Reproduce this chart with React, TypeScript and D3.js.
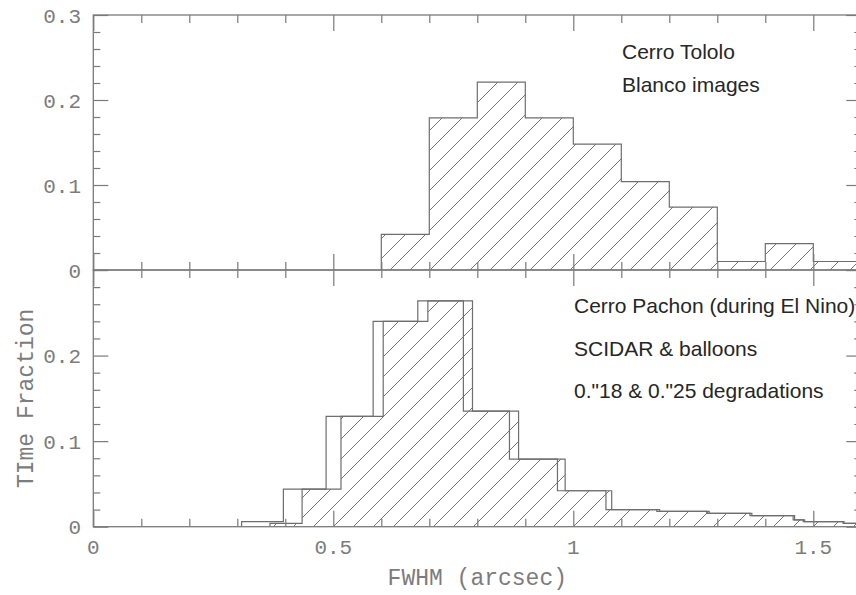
import React, { useEffect, useRef } from "react";
import * as d3 from "d3";

// DATA
const tololoEdges = [0.6, 0.7, 0.8, 0.9, 1.0, 1.1, 1.2, 1.3, 1.4, 1.5, 1.6];
const tololoFrac = [0.042, 0.179, 0.221, 0.179, 0.148, 0.104, 0.074, 0.01, 0.031, 0.01];

// Cerro Pachon: plain outline histogram and hatched (degraded) histogram
const pachonEdges = [0.309, 0.396, 0.485, 0.583, 0.676, 0.771, 0.867, 0.967, 1.068, 1.174, 1.278, 1.368, 1.458, 1.479, 1.562, 1.6];
const pachonFrac = [0.006, 0.044, 0.129, 0.24, 0.264, 0.135, 0.079, 0.042, 0.02, 0.018, 0.0155, 0.013, 0.008, 0.006, 0.004];
const degradedEdges = [0.368, 0.435, 0.516, 0.604, 0.697, 0.79, 0.886, 0.983, 1.08, 1.18, 1.283, 1.372, 1.461, 1.482, 1.564, 1.6];
const degradedFrac = [0.004, 0.044, 0.129, 0.24, 0.264, 0.135, 0.079, 0.042, 0.02, 0.018, 0.0155, 0.013, 0.008, 0.006, 0.004];

const xMajor = [0, 0.5, 1, 1.5];
const xLabels = ["0", "0.5", "1", "1.5"];
const topYMajor = [0, 0.1, 0.2, 0.3];
const topYLabels = ["0", "0.1", "0.2", "0.3"];
const botYMajor = [0, 0.1, 0.2];
const botYLabels = ["0", "0.1", "0.2"];

const topNotes = ["Cerro Tololo", "Blanco images"];
const botNotes = ["Cerro Pachon (during El Nino)", "SCIDAR & balloons", "0.\"18 & 0.\"25 degradations"];

export default function App() {
  const ref = useRef(null);

  useEffect(() => {
    const svg = d3.select(ref.current);
    svg.selectAll("*").remove();

    const left = 93.3;
    const right = 861.3;
    const top = 15;
    const mid = 270;
    const bottom = 526.7;
    const frameColor = "#7a7a7a";
    const textColor = "#7c7c7c";
    const monoFont = "'Liberation Mono', 'DejaVu Sans Mono', monospace";

    const x = d3.scaleLinear().domain([0, 1.6]).range([left, right]);
    const yTop = d3.scaleLinear().domain([0, 0.3]).range([mid, top]);
    const yBot = d3.scaleLinear().domain([0, 0.3]).range([bottom, mid]);

    // hatch pattern
    const defs = svg.append("defs");
    const pat = defs
      .append("pattern")
      .attr("id", "hatch")
      .attr("patternUnits", "userSpaceOnUse")
      .attr("width", 20)
      .attr("height", 20);
    pat
      .append("path")
      .attr("d", "M0,20 L20,0 M-5,5 L5,-5 M15,25 L25,15")
      .attr("stroke", "#767676")
      .attr("stroke-width", 1)
      .attr("fill", "none");

    defs
      .append("clipPath")
      .attr("id", "frameClip")
      .append("rect")
      .attr("x", left)
      .attr("y", top)
      .attr("width", right - left)
      .attr("height", bottom - top);

    const toPts = (edges, vals) =>
      edges.map((e, i) => ({ x: e, v: vals[Math.min(i, vals.length - 1)] }));

    const drawHist = (edges, vals, y, hatched) => {
      const pts = toPts(edges, vals);
      const g = svg.append("g").attr("clip-path", "url(#frameClip)");
      if (hatched) {
        const area = d3
          .area()
          .x((d) => x(d.x))
          .y0(y(0))
          .y1((d) => y(d.v))
          .curve(d3.curveStepAfter);
        g.append("path").datum(pts).attr("d", area).attr("fill", "url(#hatch)");
      }
      const outline = [{ x: edges[0], v: 0 }, ...pts, { x: edges[edges.length - 1], v: 0 }];
      const line = d3
        .line()
        .x((d) => x(d.x))
        .y((d) => y(d.v))
        .curve(d3.curveStepAfter);
      g.append("path")
        .datum(outline)
        .attr("d", line)
        .attr("fill", "none")
        .attr("stroke", "#6e6e6e")
        .attr("stroke-width", 1.2);
    };

    // HISTOGRAMS
    drawHist(tololoEdges, tololoFrac, yTop, true);
    drawHist(degradedEdges, degradedFrac, yBot, true);
    drawHist(pachonEdges, pachonFrac, yBot, false);

    // FRAMES
    [[top, mid], [mid, bottom]].forEach(([a, b]) => {
      svg
        .append("rect")
        .attr("x", left)
        .attr("y", a)
        .attr("width", right - left)
        .attr("height", b - a)
        .attr("fill", "none")
        .attr("stroke", frameColor)
        .attr("stroke-width", 1.3);
    });

    // TICKS
    const xMinor = d3.range(0, 17).map((i) => i / 10).filter((v) => !xMajor.includes(v));
    const yMinor = d3.range(0, 16).map((i) => i / 50).filter((v) => Math.round(v * 50) % 5 !== 0);
    const yMajorAll = [0, 0.1, 0.2, 0.3];

    const tickAxis = (axis, tx, ty) => {
      const g = svg.append("g").attr("transform", `translate(${tx},${ty})`).call(axis);
      g.select(".domain").remove();
      g.selectAll("line").attr("stroke", frameColor).attr("stroke-width", 1.2);
    };

    [
      [d3.axisBottom, top],
      [d3.axisTop, mid],
      [d3.axisBottom, mid],
      [d3.axisTop, bottom],
    ].forEach(([fn, ty]) => {
      tickAxis(fn(x).tickValues(xMinor).tickSize(8).tickFormat(""), 0, ty);
      tickAxis(fn(x).tickValues(xMajor).tickSize(16).tickFormat(""), 0, ty);
    });

    [yTop, yBot].forEach((y) => {
      tickAxis(d3.axisRight(y).tickValues(yMinor).tickSize(7).tickFormat(""), left, 0);
      tickAxis(d3.axisRight(y).tickValues(yMajorAll).tickSize(15).tickFormat(""), left, 0);
      tickAxis(d3.axisLeft(y).tickValues(yMinor).tickSize(7).tickFormat(""), right, 0);
      tickAxis(d3.axisLeft(y).tickValues(yMajorAll).tickSize(15).tickFormat(""), right, 0);
    });

    // TICK LABELS
    const yLabel = (vals, labels, y) => {
      svg
        .append("g")
        .selectAll("text")
        .data(vals)
        .join("text")
        .attr("x", 81)
        .attr("y", (d) => y(d))
        .attr("dy", "0.36em")
        .attr("text-anchor", "end")
        .attr("font-family", monoFont)
        .attr("font-size", 21)
        .attr("fill", textColor)
        .text((d, i) => labels[i]);
    };
    yLabel(topYMajor, topYLabels, yTop);
    yLabel(botYMajor, botYLabels, yBot);

    svg
      .append("g")
      .selectAll("text")
      .data(xMajor)
      .join("text")
      .attr("x", (d) => x(d))
      .attr("y", 554)
      .attr("text-anchor", "middle")
      .attr("font-family", monoFont)
      .attr("font-size", 21)
      .attr("fill", textColor)
      .text((d, i) => xLabels[i]);

    // AXIS TITLES
    svg
      .append("text")
      .attr("x", x(0.8))
      .attr("y", 585)
      .attr("text-anchor", "middle")
      .attr("font-family", monoFont)
      .attr("font-size", 23)
      .attr("fill", textColor)
      .text("FWHM (arcsec)");

    svg
      .append("text")
      .attr("transform", `translate(33,${(mid + bottom) / 2}) rotate(-90)`)
      .attr("text-anchor", "middle")
      .attr("font-family", monoFont)
      .attr("font-size", 23)
      .attr("fill", textColor)
      .text("TIme Fraction");

    // ANNOTATIONS
    svg
      .append("g")
      .selectAll("text")
      .data(topNotes)
      .join("text")
      .attr("x", 622)
      .attr("y", (d, i) => 59 + i * 33)
      .attr("font-family", "'Liberation Sans', Arial, sans-serif")
      .attr("font-size", 21)
      .attr("fill", "#262626")
      .text((d) => d);

    svg
      .append("g")
      .selectAll("text")
      .data(botNotes)
      .join("text")
      .attr("x", 574)
      .attr("y", (d, i) => 313 + i * 42.5)
      .attr("font-family", "'Liberation Sans', Arial, sans-serif")
      .attr("font-size", 21)
      .attr("fill", "#262626")
      .text((d) => d);
  }, []);

  return (
    <svg
      ref={ref}
      width={856}
      height={595}
      style={{ position: "absolute", left: 0, top: 0, background: "#fff" }}
    />
  );
}
